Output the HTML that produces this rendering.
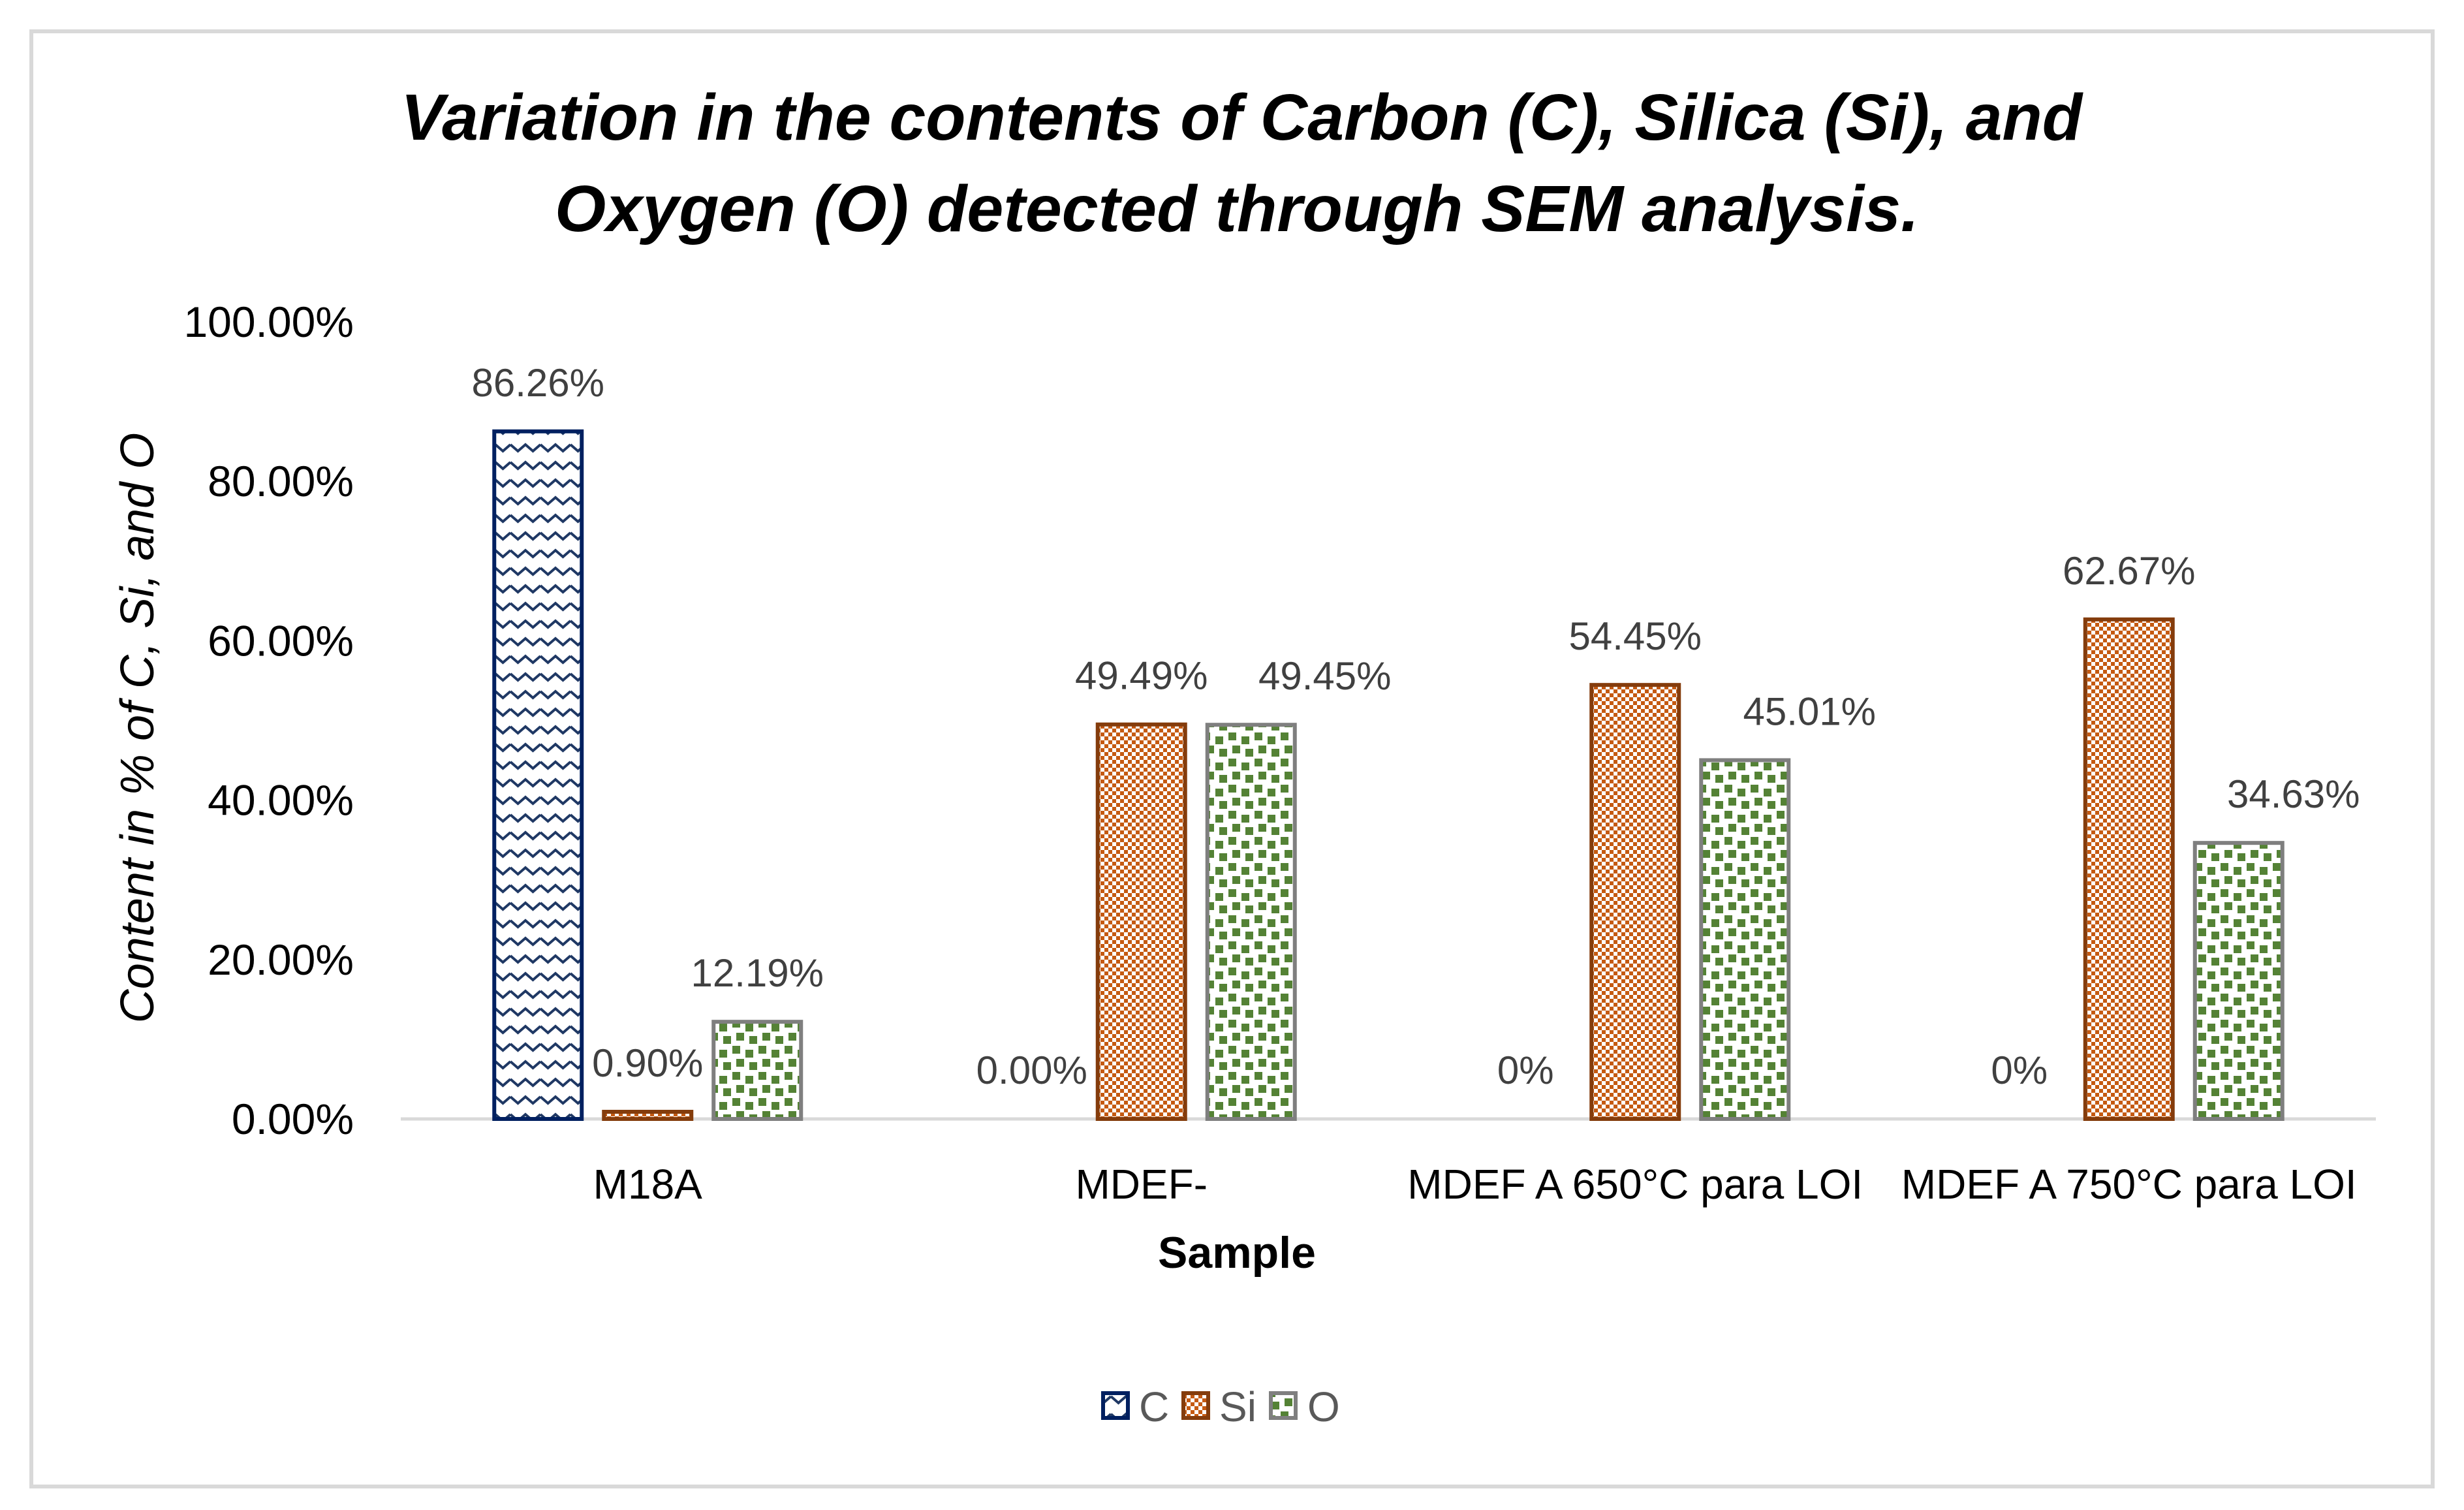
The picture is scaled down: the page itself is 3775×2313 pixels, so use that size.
<!DOCTYPE html>
<html><head><meta charset="utf-8"><style>
html,body{margin:0;padding:0;background:#fff}
svg{display:block}
text{font-family:"Liberation Sans",sans-serif}
</style></head><body>
<svg id="chart" width="3775" height="2313" viewBox="0 0 3775 2313" xmlns="http://www.w3.org/2000/svg">
<defs>
<pattern id="pc" width="46" height="27" patternUnits="userSpaceOnUse"><path d="M0 6 L11.5 16 L23 6 L34.5 16 L46 6" stroke="#1f3864" stroke-width="4" fill="none"/></pattern>
<pattern id="ps" width="12" height="12" patternUnits="userSpaceOnUse"><rect width="6" height="6" fill="#c55a11"/><rect x="6" y="6" width="6" height="6" fill="#c55a11"/></pattern>
<pattern id="po" width="40" height="40" patternUnits="userSpaceOnUse"><rect x="2" y="2" width="12" height="12" fill="#548235"/><rect x="22" y="8" width="12" height="12" fill="#548235"/><rect x="8" y="22" width="12" height="12" fill="#548235"/><rect x="28" y="27" width="12" height="12" fill="#548235"/></pattern>
</defs>
<rect x="48" y="48" width="3679" height="2229" fill="#fff" stroke="#d9d9d9" stroke-width="6"/>
<text x="1902" y="214" text-anchor="middle" font-size="100" font-weight="bold" font-style="italic" textLength="2576" lengthAdjust="spacingAndGlyphs">Variation in the contents of Carbon (C), Silica (Si), and</text>
<text x="1895" y="354" text-anchor="middle" font-size="100" font-weight="bold" font-style="italic" textLength="2090" lengthAdjust="spacingAndGlyphs">Oxygen (O) detected through SEM analysis.</text>
<text transform="translate(235,1115) rotate(-90)" text-anchor="middle" font-size="72" font-style="italic">Content in % of C, Si, and O</text>
<text x="1895" y="1942" text-anchor="middle" font-size="68" font-weight="bold">Sample</text>
<g id="plot"></g>
<g>
<g><rect x="1690" y="2134" width="38" height="38" fill="url(#pc)" stroke="#002060" stroke-width="6"/><text x="1745" y="2177" font-size="64" fill="#595959">C</text></g>
<g><rect x="1813" y="2134" width="38" height="38" fill="url(#ps)" stroke="#843c0c" stroke-width="6"/><text x="1868" y="2177" font-size="64" fill="#595959">Si</text></g>
<g><rect x="1947" y="2134" width="38" height="38" fill="url(#po)" stroke="#7f7f7f" stroke-width="6"/><text x="2003" y="2177" font-size="64" fill="#595959">O</text></g>
</g>
</svg>
<script>
const categories = ["M18A", "MDEF-", "MDEF A 650°C para LOI", "MDEF A 750°C para LOI"];
const cValues = [86.26, 0, 0, 0];
const siValues = [0.90, 49.49, 54.45, 62.67];
const oValues = [12.19, 49.45, 45.01, 34.63];
const cLabels = ["86.26%", "0.00%", "0%", "0%"];
const siLabels = ["0.90%", "49.49%", "54.45%", "62.67%"];
const oLabels = ["12.19%", "49.45%", "45.01%", "34.63%"];
const yTicks = [0, 20, 40, 60, 80, 100];
const yTickLabels = ["0.00%", "20.00%", "40.00%", "60.00%", "80.00%", "100.00%"];

const NS = "http://www.w3.org/2000/svg";
const plot = document.getElementById("plot");
const X0 = 614, X1 = 3640, Y0 = 1714, Y100 = 493;
const band = (X1 - X0) / categories.length;
const y = v => Y0 - (v / 100) * (Y0 - Y100);
const xc = i => X0 + band * (i + 0.5);
function mk(tag, attrs, txt) {
  const e = document.createElementNS(NS, tag);
  for (const k in attrs) e.setAttribute(k, attrs[k]);
  if (txt !== undefined) e.textContent = txt;
  plot.appendChild(e);
  return e;
}
yTicks.forEach((t, i) => {
  const e = mk("text", {x: 542, y: y(t) + 23, "text-anchor": "end", "font-size": 66, fill: "#000"}, yTickLabels[i]);
  
  
});
const axis = mk("line", {x1: X0, x2: X1, y1: Y0, y2: Y0, stroke: "#d9d9d9", "stroke-width": 5});


categories.forEach((c, i) => {
  const e = mk("text", {x: xc(i), y: 1836, "text-anchor": "middle", "font-size": 64, fill: "#000"}, c);
  
  
});
const series = [
  {vals: cValues, labels: cLabels, fill: "url(#pc)", stroke: "#002060", off: -168, name: "c", shift: [0, 0, 0, 0]},
  {vals: siValues, labels: siLabels, fill: "url(#ps)", stroke: "#843c0c", off: 0, name: "si", shift: [0, 0, 0, 0]},
  {vals: oValues, labels: oLabels, fill: "url(#po)", stroke: "#7f7f7f", off: 168, name: "o", shift: [0, 113, 99, 84]}
];
const W = 134;
series.forEach(s => {
  s.vals.forEach((v, i) => {
    const cx = xc(i) + s.off;
    if (v > 0) {
      const r = mk("rect", {x: cx - W / 2, y: y(v), width: W, height: Y0 - y(v), fill: s.fill, stroke: s.stroke, "stroke-width": 6});
      
      
    }
    const t = mk("text", {x: cx + s.shift[i], y: y(v) - 54, "text-anchor": "middle", "font-size": 60, fill: "#404040"}, s.labels[i]);
    
    
  });
});
</script>
</body></html>
